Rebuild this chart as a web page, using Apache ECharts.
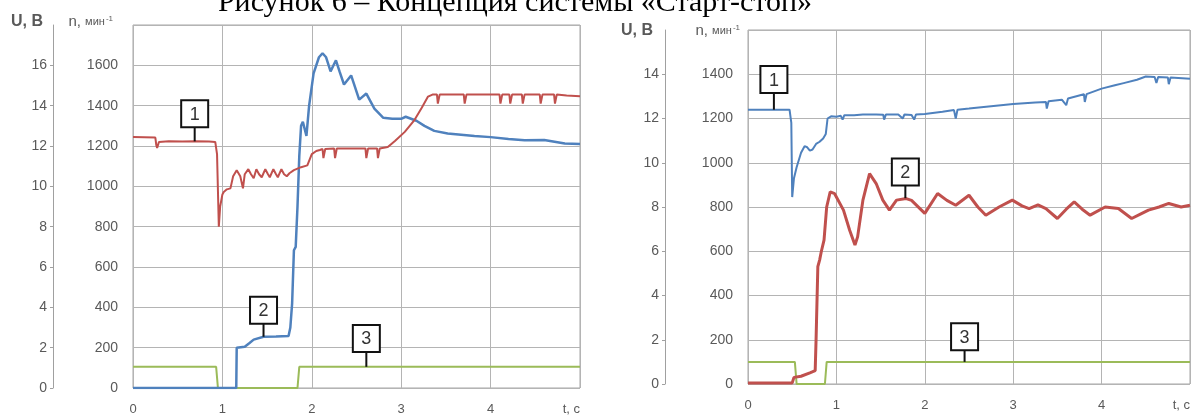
<!DOCTYPE html>
<html>
<head>
<meta charset="UTF-8">
<title></title>
<script src="https://cdn.jsdelivr.net/npm/echarts@6/dist/echarts.min.js"></script>
<style>
  html, body { margin: 0; padding: 0; background: #fff; }
</style>
</head>
<body>
<div id="main" style="width: 1194px;height: 416px;"></div>
<script type="text/javascript">
// ---- data ----
var tickLabelsX = ['0', '1', '2', '3', '4', 't, c'];

// left chart: 1 - U (V), 2 - n (min^-1), 3 - signal (V)
var leftVolt = [[0,12.45],[0.25,12.42],[0.26,12.05],[0.27,11.9],[0.29,12.2],[0.4,12.23],[0.55,12.22],[0.7,12.23],[0.85,12.22],[0.92,12.2],[0.94,11.6],[0.96,8.0],[0.975,9.0],[1.0,9.6],[1.015,9.72],[1.05,9.85],[1.09,9.9],[1.12,10.5],[1.16,10.8],[1.2,10.5],[1.23,9.9],[1.25,10.6],[1.29,10.85],[1.32,10.6],[1.35,10.4],[1.38,10.85],[1.41,10.6],[1.44,10.45],[1.48,10.85],[1.51,10.6],[1.53,10.45],[1.57,10.85],[1.6,10.6],[1.62,10.45],[1.66,10.85],[1.69,10.6],[1.72,10.5],[1.75,10.65],[1.8,10.8],[1.88,10.95],[1.95,11.04],[1.97,11.0],[2.0,11.6],[2.05,11.75],[2.09,11.8],[2.12,11.85],[2.13,11.4],[2.15,11.85],[2.25,11.87],[2.26,11.4],[2.28,11.88],[2.45,11.88],[2.6,11.88],[2.61,11.4],[2.63,11.88],[2.73,11.88],[2.74,11.4],[2.76,11.88],[2.85,11.95],[2.93,12.25],[3.04,12.7],[3.15,13.3],[3.23,13.9],[3.3,14.45],[3.35,14.55],[3.4,14.55],[3.41,14.1],[3.43,14.55],[3.7,14.55],[3.71,14.1],[3.73,14.55],[4.1,14.55],[4.11,14.1],[4.13,14.55],[4.21,14.55],[4.22,14.1],[4.24,14.55],[4.35,14.55],[4.36,14.1],[4.38,14.55],[4.55,14.55],[4.56,14.1],[4.58,14.55],[4.71,14.55],[4.72,14.1],[4.74,14.55],[4.85,14.5],[5.0,14.47]];
var leftSpeed = [[0,0],[1.155,0],[1.16,200],[1.25,205],[1.3,222],[1.35,240],[1.46,254],[1.6,255],[1.74,258],[1.76,300],[1.78,420],[1.8,683],[1.82,700],[1.84,900],[1.86,1150],[1.88,1300],[1.9,1320],[1.94,1250],[1.97,1400],[2.02,1560],[2.08,1640],[2.12,1660],[2.16,1640],[2.21,1570],[2.27,1625],[2.31,1570],[2.36,1505],[2.44,1550],[2.53,1430],[2.61,1460],[2.7,1385],[2.8,1340],[2.9,1335],[3.0,1335],[3.05,1345],[3.17,1325],[3.26,1300],[3.37,1275],[3.52,1262],[3.7,1255],[3.82,1250],[4.0,1244],[4.2,1235],[4.38,1228],[4.6,1230],[4.83,1212],[5.0,1210]];
var leftSignal = [[0,1.05],[0.93,1.05],[0.95,0],[1.84,0],[1.86,1.05],[5,1.05]];

// right chart: 1 - U (V), 2 - n (min^-1), 3 - signal (V)
var rightVolt = [[0,12.4],[0.3,12.4],[0.47,12.4],[0.49,11.8],[0.5,8.45],[0.52,9.3],[0.55,9.8],[0.6,10.45],[0.64,10.75],[0.67,10.7],[0.7,10.55],[0.73,10.6],[0.77,10.85],[0.81,10.95],[0.85,11.1],[0.88,11.3],[0.9,12.0],[0.94,12.1],[1.0,12.08],[1.05,12.12],[1.07,11.95],[1.09,12.15],[1.2,12.15],[1.3,12.18],[1.45,12.18],[1.53,12.17],[1.54,11.95],[1.56,12.18],[1.7,12.18],[1.75,12.0],[1.77,12.18],[1.85,12.16],[1.88,11.95],[1.9,12.18],[2.0,12.2],[2.2,12.3],[2.33,12.38],[2.35,12.0],[2.37,12.4],[2.5,12.45],[2.75,12.55],[3.0,12.65],[3.25,12.72],[3.37,12.75],[3.38,12.45],[3.4,12.78],[3.55,12.85],[3.6,12.6],[3.62,12.9],[3.8,13.1],[3.81,12.75],[3.83,13.1],[4.0,13.35],[4.15,13.5],[4.25,13.6],[4.4,13.75],[4.5,13.9],[4.6,13.88],[4.62,13.6],[4.64,13.88],[4.75,13.85],[4.76,13.55],[4.78,13.85],[5.0,13.8]];
var rightSpeed = [[0,5],[0.5,5],[0.51,10],[0.52,30],[0.6,35],[0.7,50],[0.76,60],[0.77,200],[0.79,530],[0.81,560],[0.83,600],[0.86,650],[0.89,800],[0.93,868],[0.98,860],[1.08,786],[1.15,695],[1.21,628],[1.24,665],[1.3,831],[1.375,951],[1.45,906],[1.525,831],[1.6,786],[1.68,831],[1.79,838],[1.85,830],[2.0,771],[2.145,861],[2.25,830],[2.35,808],[2.5,853],[2.6,800],[2.69,763],[2.84,800],[2.99,831],[3.1,805],[3.18,793],[3.28,810],[3.37,793],[3.5,748],[3.6,790],[3.69,823],[3.78,790],[3.87,763],[4.04,800],[4.19,793],[4.34,748],[4.45,770],[4.53,786],[4.65,800],[4.76,816],[4.9,800],[5.0,808]];
var rightSignal = [[0,1.0],[0.53,1.0],[0.55,0],[0.87,0],[0.89,1.0],[5,1.0]];

// callouts: [t, box centre (n), line point (n), label]
var leftNotes = [[0.69,1360,1223,'1'],[1.46,386,254,'2'],[2.61,246,105,'3']];
var rightNotes = [[0.293,1376,1240,'1'],[1.78,958,840,'2'],[2.45,214,100,'3']];

var RED = '#c0504d', BLUE = '#4f81bd', GREEN = '#9bbb59';
var GRAY = '#595959', GRIDC = '#b4b4b4';

function xAxis(gi) {
	return {
		type: 'value', gridIndex: gi, min: 0, max: 5, interval: 1,
		axisLine: { show: false }, axisTick: { show: false },
		splitLine: { lineStyle: { color: GRIDC, width: 1 } },
		axisLabel: {
			color: GRAY, fontSize: 13, margin: 15, fontFamily: 'Liberation Sans',
			alignMaxLabel: 'right',
			formatter: function (v) { return tickLabelsX[Math.round(v)]; }
		}
	};
}
function nAxis(gi, max, pad, gap) {
	return {
		type: 'value', gridIndex: gi, min: 0, max: max, interval: 200, position: 'left',
		name: 'n, {m|мин}{s|-1}', nameLocation: 'end', nameGap: gap,
		nameTextStyle: {
			align: 'right', verticalAlign: 'middle', padding: [0, pad, 0, 0],
			color: GRAY, fontSize: 15, fontFamily: 'Liberation Sans',
			rich: {
				m: { fontSize: 11, color: GRAY, fontFamily: 'Liberation Sans' },
				s: { fontSize: 8, color: GRAY, verticalAlign: 'top', padding: [0, 0, 7, 1] }
			}
		},
		axisLine: { show: false }, axisTick: { show: false },
		splitLine: { lineStyle: { color: GRIDC, width: 1 } },
		axisLabel: {
			color: GRAY, fontSize: 14, margin: 15, showMaxLabel: false, fontFamily: 'Liberation Sans',
			formatter: function (v) { return String(v); }
		}
	};
}
function uAxis(gi, max, off, pad, gap) {
	return {
		type: 'value', gridIndex: gi, min: 0, max: max, interval: 2, position: 'left', offset: off,
		name: 'U, B', nameLocation: 'end', nameGap: gap,
		nameTextStyle: {
			align: 'right', verticalAlign: 'middle', padding: [0, pad, 0, 0],
			color: GRAY, fontSize: 16, fontWeight: 'bold', fontFamily: 'Liberation Sans'
		},
		axisLine: { show: true, lineStyle: { color: '#a0a0a0', width: 1 } },
		axisTick: { show: true, length: 3, lineStyle: { color: '#a0a0a0' } },
		splitLine: { show: false },
		axisLabel: { color: GRAY, fontSize: 14, margin: 6, showMaxLabel: false, fontFamily: 'Liberation Sans' }
	};
}
function line(data, xi, yi, color, w) {
	return {
		type: 'line', data: data, xAxisIndex: xi, yAxisIndex: yi, showSymbol: false,
		lineStyle: { color: color, width: w }, itemStyle: { color: color }, z: 3
	};
}
function notes(data, xi, yi) {
	return {
		type: 'custom', data: data, xAxisIndex: xi, yAxisIndex: yi, z: 10,
		renderItem: function (params, api) {
			var b = api.coord([api.value(0), api.value(1)]);
			var p = api.coord([api.value(0), api.value(2)]);
			var s = 27;
			return {
				type: 'group',
				children: [
					{ type: 'line', shape: { x1: b[0], y1: b[1] + s / 2, x2: p[0], y2: p[1] },
					  style: { stroke: '#111', lineWidth: 2 } },
					{ type: 'rect', shape: { x: b[0] - s / 2, y: b[1] - s / 2, width: s, height: s },
					  style: { fill: '#fff', stroke: '#111', lineWidth: 2 } },
					{ type: 'text', x: b[0], y: b[1] + 1,
					  style: { text: data[params.dataIndex][3], align: 'center', verticalAlign: 'middle',
					           fontSize: 18, fill: '#333', fontFamily: 'Liberation Sans' } }
				]
			};
		}
	};
}

var myChart = echarts.init(document.getElementById('main'));
myChart.setOption({
	backgroundColor: '#fff',
	animation: false,
	graphic: [{
		type: 'text', x: 515, y: 18,
		style: { text: 'Рисунок 6 – Концепция системы «Старт-стоп»', align: 'center', verticalAlign: 'bottom',
		         fontSize: 30, fill: '#000', fontFamily: 'Liberation Serif' }
	}],
	grid: [
		{ left: 133, top: 25, width: 447, height: 363, show: true, borderColor: '#a6a6a6', borderWidth: 1 },
		{ left: 748, top: 30, width: 442, height: 354, show: true, borderColor: '#a6a6a6', borderWidth: 1 }
	],
	xAxis: [xAxis(0), xAxis(1)],
	yAxis: [nAxis(0, 1800, 20, 3), uAxis(0, 18, 80, 10, 3), nAxis(1, 1600, 8, -1), uAxis(1, 16, 83, 12, -1)],
	series: [
		line(leftSignal, 0, 1, GREEN, 2),
		line(leftSpeed, 0, 0, BLUE, 2.5),
		line(leftVolt, 0, 1, RED, 2),
		notes(leftNotes, 0, 0),
		line(rightSignal, 1, 3, GREEN, 2),
		line(rightVolt, 1, 3, BLUE, 2),
		line(rightSpeed, 1, 2, RED, 3),
		notes(rightNotes, 1, 2)
	]
});
</script>
</body>
</html>
